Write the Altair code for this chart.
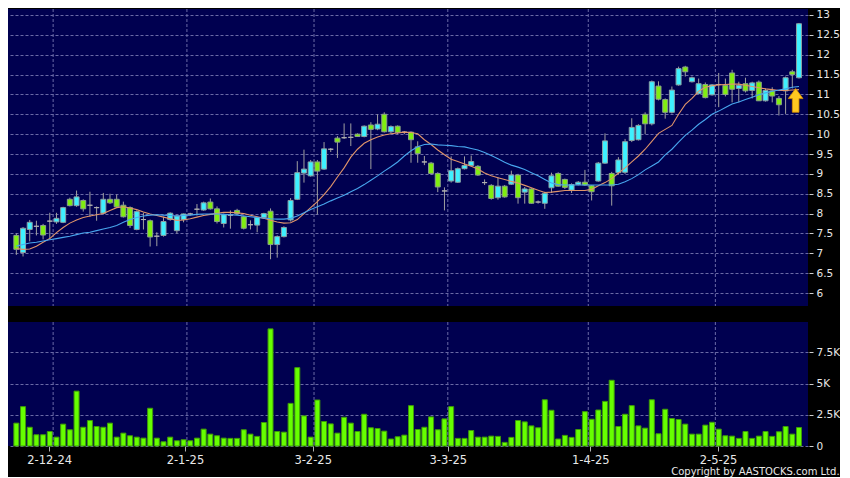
import altair as alt
import pandas as pd

# ---------------- data ----------------
opens = [7.45, 7.02, 7.60, 7.68, 7.70, 7.81, 7.79, 7.78, 8.36, 8.20,
         8.33, 8.21, 8.15, 8.01, 8.36, 8.36, 8.21, 8.15, 7.60, 7.85,
         7.82, 7.43, 7.45, 7.85, 7.57, 7.85, 7.99, 8.11, 8.09, 8.29,
         8.12, 7.75, 7.96, 8.08, 7.92, 7.72, 7.71, 7.90, 8.06, 7.22,
         7.42, 7.84, 8.36, 9.02, 8.95, 9.30, 9.12, 9.62, 9.90, 9.91,
         9.92, 10.00, 9.94, 10.23, 10.13, 10.50, 10.06, 10.20, 10.05, 10.05,
         9.68, 9.30, 9.27, 9.01, 8.57, 8.82, 8.79, 9.13, 9.21, 9.19,
         8.78, 8.71, 8.40, 8.69, 8.74, 8.97, 8.54, 8.62, 8.29, 8.26,
         8.65, 9.01, 8.86, 8.59, 8.73, 8.79, 8.70, 8.82, 9.27, 9.01,
         9.03, 9.04, 9.84, 9.86, 10.50, 10.26, 11.21, 10.87, 10.55, 11.24,
         11.69, 11.32, 11.02, 11.25, 10.99, 11.25, 11.23, 11.54, 11.15, 11.27,
         11.10, 11.31, 10.84, 11.09, 10.90, 11.09, 11.57, 11.42]
highs = [7.50, 7.66, 7.84, 7.82, 7.74, 8.02, 8.02, 8.17, 8.40, 8.58,
         8.36, 8.55, 8.18, 8.52, 8.50, 8.48, 8.30, 8.18, 8.08, 8.02,
         7.85, 7.53, 7.92, 8.03, 7.96, 8.00, 8.02, 8.24, 8.30, 8.38,
         8.18, 8.00, 8.08, 8.12, 7.95, 7.83, 7.92, 8.02, 8.13, 7.45,
         7.68, 8.39, 9.32, 9.61, 9.35, 9.35, 9.80, 9.65, 9.95, 10.27,
         10.27, 10.02, 10.22, 10.30, 10.50, 10.55, 10.22, 10.22, 10.08, 10.07,
         9.82, 9.45, 9.30, 9.04, 8.66, 9.44, 9.16, 9.44, 9.46, 9.22,
         8.86, 8.74, 8.92, 8.72, 9.08, 9.00, 8.67, 8.64, 8.33, 8.55,
         9.03, 9.04, 8.88, 8.76, 8.82, 9.10, 8.72, 9.30, 10.02, 9.05,
         9.42, 9.88, 10.40, 10.25, 10.55, 11.35, 11.33, 10.90, 11.20, 11.70,
         11.72, 11.45, 11.40, 11.30, 11.26, 11.54, 11.40, 11.62, 11.32, 11.42,
         11.32, 11.35, 11.15, 11.18, 10.96, 11.45, 11.62, 12.80]
lows = [6.96, 6.92, 7.30, 7.45, 7.35, 7.38, 7.74, 7.76, 8.18, 8.17,
        8.05, 7.92, 7.82, 7.98, 8.24, 8.15, 7.90, 7.64, 7.58, 7.60,
        7.17, 7.18, 7.42, 7.82, 7.50, 7.78, 7.95, 7.95, 8.07, 8.10,
        7.75, 7.65, 7.62, 7.98, 7.60, 7.60, 7.53, 7.88, 6.85, 6.89,
        7.40, 7.80, 8.34, 8.78, 8.93, 7.98, 9.10, 9.55, 9.40, 9.88,
        9.70, 9.93, 9.92, 9.12, 10.10, 10.04, 10.02, 10.00, 10.00, 9.28,
        9.28, 9.22, 8.98, 8.54, 8.08, 8.78, 8.77, 9.11, 9.20, 8.95,
        8.72, 8.35, 8.35, 8.40, 8.72, 8.25, 8.25, 8.25, 8.25, 8.12,
        8.52, 8.68, 8.62, 8.52, 8.71, 8.70, 8.33, 8.80, 9.25, 8.20,
        8.98, 9.00, 9.80, 9.84, 10.00, 10.22, 10.85, 10.39, 10.52, 11.22,
        11.45, 11.30, 11.00, 10.90, 10.97, 10.68, 10.95, 10.80, 10.80, 11.05,
        10.90, 10.84, 10.82, 10.80, 10.47, 10.51, 11.15, 11.40]
closes = [7.10, 7.63, 7.78, 7.68, 7.46, 7.81, 7.88, 8.15, 8.20, 8.42,
          8.12, 8.21, 8.15, 8.36, 8.27, 8.17, 7.92, 7.70, 8.05, 7.85,
          7.41, 7.43, 7.80, 8.01, 7.94, 7.99, 7.99, 8.11, 8.27, 8.12,
          7.80, 7.97, 7.96, 8.00, 7.63, 7.72, 7.90, 8.00, 7.22, 7.42,
          7.65, 8.33, 9.03, 9.12, 9.30, 9.07, 9.63, 9.62, 9.80, 9.91,
          9.92, 9.94, 10.20, 10.12, 10.25, 10.06, 10.19, 10.04, 10.05, 9.86,
          9.51, 9.30, 9.01, 8.67, 8.57, 9.08, 9.13, 9.21, 9.31, 8.97,
          8.78, 8.38, 8.69, 8.42, 8.97, 8.40, 8.62, 8.26, 8.29, 8.51,
          8.95, 8.69, 8.66, 8.73, 8.79, 8.72, 8.55, 9.27, 9.83, 8.70,
          9.35, 9.81, 10.17, 10.22, 10.26, 11.32, 10.88, 10.55, 11.11, 11.65,
          11.57, 11.42, 11.27, 10.92, 11.24, 11.25, 11.00, 11.13, 11.23, 11.09,
          11.29, 10.84, 11.10, 10.96, 10.74, 11.42, 11.50, 12.78]
volumes = [1830, 3150, 1500, 900, 900, 1160, 710, 1750, 1300, 4390,
           1500, 2040, 1560, 1500, 1830, 710, 1030, 820, 710, 630,
           3020, 630, 340, 710, 420, 500, 420, 630, 1350, 950,
           820, 630, 610, 610, 1300, 950, 770, 1880, 9370, 1160,
           1110, 3410, 6270, 2410, 710, 3680, 1960, 1770, 1030, 2300,
           1830, 1160, 2540, 1460, 1400, 1190, 560, 740, 870, 3230,
           1320, 1500, 2330, 1300, 2170, 3150, 610, 610, 1240, 710,
           710, 790, 770, 290, 690, 2040, 1930, 1610, 1460, 3700,
           2860, 560, 850, 690, 1320, 2750, 2140, 2880, 3570, 5260,
           1560, 2540, 3230, 1610, 1430, 3700, 980, 2940, 2200, 2120,
           1750, 950, 950, 1670, 1900, 1350, 820, 790, 610, 1160,
           610, 790, 1160, 770, 1140, 1560, 950, 1480]
ma10 = [7.12, 7.10, 7.11, 7.18, 7.28, 7.37, 7.52, 7.65, 7.76, 7.84,
        7.90, 7.94, 7.97, 8.00, 8.08, 8.15, 8.17, 8.14, 8.10, 8.04,
        7.99, 7.95, 7.91, 7.87, 7.83, 7.84, 7.87, 7.91, 7.95, 7.98,
        8.01, 8.03, 8.03, 8.02, 8.00, 7.96, 7.92, 7.88, 7.83, 7.79,
        7.76, 7.77, 7.85, 8.00, 8.15, 8.30, 8.48, 8.68, 8.92, 9.15,
        9.42, 9.62, 9.77, 9.86, 9.93, 9.98, 10.01, 10.03, 10.05, 10.04,
        10.01, 9.86, 9.74, 9.60, 9.48, 9.37, 9.31, 9.25, 9.19, 9.12,
        9.02, 8.95, 8.90, 8.86, 8.81, 8.77, 8.71, 8.65, 8.59, 8.53,
        8.54, 8.56, 8.58, 8.58, 8.58, 8.58, 8.61, 8.70, 8.78, 8.88,
        9.02, 9.15, 9.30, 9.45, 9.62, 9.82, 10.02, 10.12, 10.22, 10.50,
        10.75, 10.90, 11.08, 11.18, 11.22, 11.24, 11.25, 11.26, 11.26, 11.23,
        11.20, 11.17, 11.14, 11.12, 11.10, 11.10, 11.11, 11.12]
ma20 = [7.18, 7.22, 7.26, 7.28, 7.31, 7.34, 7.37, 7.40, 7.43, 7.47,
        7.51, 7.53, 7.57, 7.61, 7.65, 7.70, 7.78, 7.85, 7.90, 7.94,
        7.96, 7.97, 7.96, 7.95, 7.94, 7.95, 7.96, 7.98, 7.99, 7.99,
        7.99, 7.98, 7.97, 7.96, 7.94, 7.92, 7.90, 7.89, 7.87, 7.86,
        7.86, 7.88, 7.94, 8.02, 8.10, 8.17, 8.24, 8.32, 8.39, 8.46,
        8.55, 8.63, 8.73, 8.84, 8.95, 9.07, 9.18, 9.30, 9.45, 9.58,
        9.68, 9.74, 9.75, 9.73, 9.72, 9.71, 9.69, 9.68, 9.64, 9.60,
        9.54, 9.46, 9.38, 9.29, 9.22, 9.17, 9.11, 9.03, 8.95, 8.86,
        8.77, 8.73, 8.72, 8.72, 8.72, 8.72, 8.72, 8.72, 8.72, 8.72,
        8.74, 8.80, 8.88, 8.98, 9.10, 9.20, 9.30, 9.48, 9.62, 9.80,
        9.97, 10.10, 10.25, 10.37, 10.50, 10.58, 10.67, 10.76, 10.81, 10.87,
        10.93, 10.99, 11.04, 11.08, 11.11, 11.14, 11.18, 11.20]

month_labels = ["2-12-24", "2-1-25", "3-2-25", "3-3-25", "1-4-25", "2-5-25"]
month_grid = [5.5, 25.5, 44.5, 64.5, 85.5, 104.5]
month_tick = [4.9, 25.2, 44.3, 64.5, 85.8, 104.9]
price_ticks = [6, 6.5, 7, 7.5, 8, 8.5, 9, 9.5, 10, 10.5, 11, 11.5, 12, 12.5, 13]
vol_ticks = [0, 2500, 5000, 7500]
arrow_day = [116.5]
arrow_price = [10.85]

# ---------------- styling ----------------
NAVY = "#000050"
GRID = "#6a6aa6"
CYAN = "#3ef0ff"
GREEN = "#80ee10"
GRAY = "#a8a8a8"
ORANGE = "#e0946a"
BLUE = "#48a6ee"
VOLG = "#66ff00"
TXT = "#e8e8e8"
FONT = "DejaVu Sans"

N = len(closes)
df = pd.DataFrame({
    "day": list(range(N)), "open": opens, "high": highs, "low": lows,
    "close": closes, "volume": volumes, "ma10": ma10, "ma20": ma20,
})
df["kind"] = ["up" if c > o else ("down" if c < o else "flat") for o, c in zip(opens, closes)]
grid_df = pd.DataFrame({"pos": month_grid})
arrow_df = pd.DataFrame({"day": arrow_day, "price": arrow_price})

xscale = alt.Scale(domain=[-0.5, 117.6], nice=False, zero=False)
pscale = alt.Scale(domain=[5.673, 13.151], nice=False, zero=False)
vscale = alt.Scale(domain=[0, 9920], nice=False, zero=False)

price_axis = alt.Axis(orient="right", values=price_ticks, format="~g", grid=True,
                      gridColor=GRID, gridDash=[3, 2], gridWidth=1, domain=False,
                      tickColor="#cfcfcf", tickSize=4, labelColor=TXT, labelFont=FONT,
                      labelFontSize=10.5, labelPadding=3, title=None, offset=1,
                      labelOverlap=False, labelFlush=False)
vol_axis = alt.Axis(orient="right", values=vol_ticks,
                    labelExpr="datum.value == 0 ? '0' : format(datum.value / 1000, '~g') + 'K'",
                    grid=True, gridColor=GRID, gridDash=[3, 2], gridWidth=1, domain=False,
                    tickColor="#cfcfcf", tickSize=4, labelColor=TXT, labelFont=FONT,
                    labelFontSize=10.5, labelPadding=3, title=None, offset=1,
                    labelOverlap=False, labelFlush=False)
expr = "''"
for p, lab in reversed(list(zip(month_tick, month_labels))):
    expr = f"datum.value == {p} ? '{lab}' : ({expr})"
date_axis = alt.Axis(values=month_tick, labelExpr=expr, grid=False, domain=False,
                     tickColor="#b0b0b0", tickSize=5, labelColor=TXT, labelFont=FONT,
                     labelFontSize=11.5, labelPadding=3, title=None, labelOverlap=False,
                     labelFlush=False)

# ---------------- price panel ----------------
def px(field):
    return alt.X(field, scale=xscale, axis=None)

def py(field):
    return alt.Y(field, scale=pscale, axis=price_axis)

vgrid = alt.Chart(grid_df).mark_rule(color=GRID, strokeDash=[3, 2], strokeWidth=1).encode(
    x=px("pos:Q"))
wicks = alt.Chart(df).mark_rule(color="#a0a0a0", strokeWidth=1).encode(
    x=px("day:Q"), y=py("low:Q"), y2="high:Q")
bodies = alt.Chart(df).mark_bar(width=5, strokeWidth=1).encode(
    x=px("day:Q"), y=py("open:Q"), y2="close:Q",
    fill=alt.Fill("kind:N", scale=alt.Scale(domain=["up", "down", "flat"], range=[CYAN, GREEN, GRAY]),
                  legend=None),
    stroke=alt.Stroke("kind:N", scale=alt.Scale(domain=["up", "down", "flat"],
                                                range=["#8aa0a4", "#8aa08a", "#b0b0b0"]), legend=None))
line10 = alt.Chart(df).mark_line(color=ORANGE, strokeWidth=1.1).encode(x=px("day:Q"), y=py("ma10:Q"))
line20 = alt.Chart(df).mark_line(color=BLUE, strokeWidth=1.1).encode(x=px("day:Q"), y=py("ma20:Q"))
ARROW = "M0,-1L0.62,-0.15L0.28,-0.15L0.28,1L-0.28,1L-0.28,-0.15L-0.62,-0.15Z"
arrow = alt.Chart(arrow_df).mark_point(shape=ARROW, size=560, filled=True, fill="#ffc820",
                                       stroke="#d89000", strokeWidth=0.8, opacity=1).encode(
    x=px("day:Q"), y=py("price:Q"))

price = alt.layer(wicks, vgrid, bodies, line10, line20, arrow).properties(width=800, height=297)

# ---------------- volume panel ----------------
def vx(field):
    return alt.X(field, scale=xscale, axis=date_axis)

vgrid2 = alt.Chart(grid_df).mark_rule(color=GRID, strokeDash=[3, 2], strokeWidth=1).encode(
    x=vx("pos:Q"))
vbars = alt.Chart(df).mark_bar(width=5, fill=VOLG, stroke="#3f9a08", strokeWidth=1).encode(
    x=vx("day:Q"), y=alt.Y("volume:Q", scale=vscale, axis=vol_axis))
volume = alt.layer(vbars, vgrid2).properties(width=800, height=124)

chart = alt.vconcat(price, volume, spacing=14).properties(
    background="#000000",
    padding=0,
    title=alt.TitleParams("Copyright by AASTOCKS.com Ltd.", orient="bottom", anchor="end",
                          color=TXT, font=FONT, fontSize=10, fontWeight="normal", offset=1),
).configure_view(fill=NAVY, stroke=None)

chart.save("out.html", embed_options={"renderer": "svg", "actions": False})
